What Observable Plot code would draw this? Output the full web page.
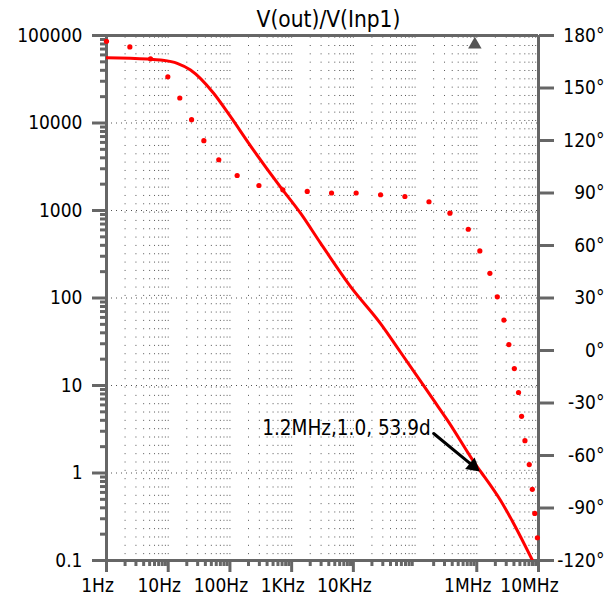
<!DOCTYPE html>
<html><head><meta charset="utf-8">
<script src="https://cdn.jsdelivr.net/npm/d3@7"></script>
<script src="https://cdn.jsdelivr.net/npm/@observablehq/plot@0.6"></script>
<style>html,body{margin:0;padding:0;background:#fff;} svg{display:block}</style>
</head><body><div id="chart"></div>
<script>
// ---- data ----
const title = "V(out)/V(Inp1)";
const magFreq  = [1, 4.6, 7.5, 14, 23, 54, 91, 241, 661, 1393, 2940, 9010, 27600, 58200, 200000, 336000, 1030000, 1200000, 2430000, 3950000, 8000000];
const magValue = [55700, 53800, 52400, 48100, 40300, 22000, 13300, 4900, 1850, 931, 423, 135, 51, 24, 6.8, 4.0, 1.16, 1.0, 0.485, 0.265, 0.1];
const phaseFreq = [1, 2.39, 5.17, 9.86, 15.4, 23.9, 37.8, 66, 131, 295, 720, 1790, 4430, 11100, 27600, 68400, 168000, 367000, 728000, 1120000, 1630000, 2150000, 2750000, 3310000, 4060000, 4750000, 5320000, 6030000, 7080000, 7940000, 8700000, 9600000];
const phaseDeg  = [176.7, 173.5, 166.7, 156.4, 144.3, 131.9, 119.9, 109, 100, 94.3, 91.8, 90.9, 90, 90, 89, 88, 85, 78.5, 69.3, 56.9, 44.1, 30.7, 17.4, 3.4, -10.3, -24, -37.6, -51.5, -65.2, -79.3, -93.1, -107];
const magTicks = [0.1, 1, 10, 100, 1000, 10000, 100000];
const magTickLabels = ["0.1", "1", "10", "100", "1000", "10000", "100000"];
const phaseTicks = [180, 150, 120, 90, 60, 30, 0, -30, -60, -90, -120];
const freqTicks = [1, 10, 100, 1000, 10000, 1000000, 10000000];
const freqTickLabels = ["1Hz", "10Hz", "100Hz", "1KHz", "10KHz", "1MHz", "10MHz"];
const cursorFreq = [930000];
const annotText = "1.2MHz,1.0, 53.9d";
const annotFreq = 1200000, annotMag = 1.0;
const arrowFromFreq = 200000, arrowFromMag = 2.83;

// ---- derived helpers ----
const phaseToMag = p => 10 ** (-1 + (p + 120) / 50);
const majorX = d3.range(0, 8).map(k => 10 ** k);
const minorX = d3.range(0, 7).flatMap(k => d3.range(2, 10).map(m => m * 10 ** k));
const gridX = minorX.concat(majorX.slice(1, -1));
const minorY = d3.range(-1, 5).flatMap(k => d3.range(2, 10).map(m => m * 10 ** k));
const gridY = magTicks.slice(1, -1);
const magData = magFreq.map((f, i) => ({f, v: magValue[i]}));
const phaseData = phaseFreq.map((f, i) => ({f, p: phaseDeg[i]}));

const font = "'DejaVu Sans Condensed', 'DejaVu Sans', sans-serif";
const dotc = "#555";
const axisc = "#666666";

const chart = Plot.plot({
  width: 614, height: 597,
  marginLeft: 106, marginRight: 76, marginTop: 35, marginBottom: 37,
  style: {fontFamily: font, fontSize: "19px", color: "#000", background: "#fff", overflow: "visible"},
  x: {type: "log", domain: [1, 1e7]},
  y: {type: "log", domain: [0.1, 1e5]},
  marks: [
    Plot.ruleX(gridX, {stroke: dotc, strokeWidth: 1, strokeDasharray: "1,7.33", strokeDashoffset: 6.66}),
    Plot.ruleY(gridY, {stroke: dotc, strokeWidth: 1, strokeDasharray: "1,4"}),
    // tick marks outside the frame
    Plot.axisX(minorX, {tickSize: 6, tickFormat: () => "", stroke: axisc, strokeWidth: 3, label: null}),
    Plot.axisX(freqTicks, {tickSize: 12, tickFormat: () => "", stroke: axisc, strokeWidth: 3, label: null}),
    Plot.axisY(minorY, {anchor: "left", tickSize: 6, tickFormat: () => "", stroke: axisc, strokeWidth: 3, label: null}),
    Plot.axisY(magTicks, {anchor: "left", tickSize: 14, tickFormat: () => "", stroke: axisc, strokeWidth: 3, label: null}),
    Plot.axisY(phaseTicks.map(phaseToMag), {anchor: "right", tickSize: 15, tickFormat: () => "", stroke: axisc, strokeWidth: 3, label: null}),
    // frame
    Plot.ruleX([1, 1e7], {stroke: axisc, strokeWidth: 3}),
    Plot.ruleY([0.1, 1e5], {stroke: axisc, strokeWidth: 3}),
    // tick labels
    Plot.text(freqTicks, {x: d => d, text: (d, i) => freqTickLabels[i], frameAnchor: "bottom", lineAnchor: "top", dy: 18, dx: -9, fill: "#000"}),
    Plot.text(magTicks, {y: d => d, text: (d, i) => magTickLabels[i], frameAnchor: "left", textAnchor: "end", dx: -24, fill: "#000"}),
    Plot.text(phaseTicks, {y: d => phaseToMag(d), text: d => `${d}°`, frameAnchor: "right", textAnchor: "end", dx: 66, fill: "#000"}),
    // data
    Plot.line(magData, {x: "f", y: "v", stroke: "#ff0000", strokeWidth: 3, curve: "monotone-x", clip: true}),
    Plot.dot(phaseData, {x: "f", y: d => phaseToMag(d.p), r: 2.6, fill: "#ff0000", stroke: null}),
    Plot.dot(cursorFreq, {x: d => d, frameAnchor: "top", dy: 9, symbol: "triangle", r: 5, fill: "#555", stroke: null}),
    // annotation
    Plot.arrow([0], {x1: () => arrowFromFreq, y1: () => arrowFromMag, x2: () => annotFreq, y2: () => annotMag, stroke: "#000", strokeWidth: 3, headLength: 0, insetEnd: 12}),
    Plot.dot([0], {x: () => annotFreq, y: () => annotMag, symbol: "triangle", r: 5.5, rotate: 129.6, dx: -8.5, dy: -7, fill: "#000", stroke: null}),
    Plot.text([annotText], {x: () => arrowFromFreq, y: () => arrowFromMag, text: d => d, textAnchor: "end", dx: -3, dy: -5, fontSize: 20.5, fill: "#000"}),
    Plot.text([title], {frameAnchor: "top", lineAnchor: "middle", text: d => d, dy: -16, dx: 6, fontSize: 22.5, fill: "#000"})
  ]
});
document.getElementById("chart").appendChild(chart);
</script>
</body></html>
